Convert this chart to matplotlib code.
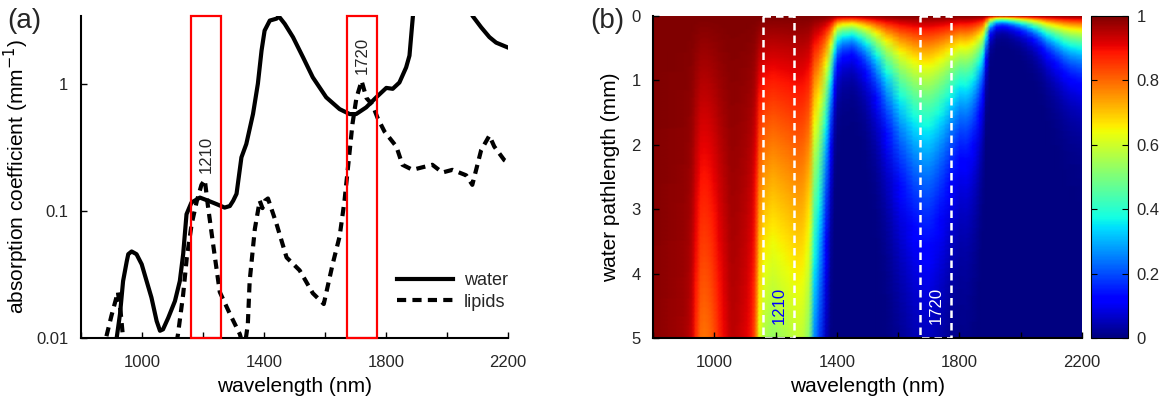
import numpy as np
import matplotlib
matplotlib.use('Agg')
import matplotlib.pyplot as plt
from matplotlib.patches import Rectangle

# water absorption coefficient (mm^-1); values off-scale estimated
water_nm = [800, 850, 900, 917, 928, 938, 950, 955, 966, 982, 999, 1015, 1031, 1048,
            1059, 1069, 1086, 1108, 1124, 1135, 1146, 1162, 1190, 1217, 1244, 1271,
            1288, 1299, 1310, 1326, 1342, 1364, 1380, 1392, 1402, 1419, 1441, 1449,
            1468, 1495, 1528, 1560, 1604, 1648, 1681, 1702, 1735, 1768, 1801, 1822,
            1844, 1866, 1877, 1886, 1900, 1920, 1940, 1960, 2000, 2040, 2070, 2084,
            2112, 2139, 2161, 2200]
water_mu = [0.0022, 0.0045, 0.0068, 0.010, 0.0155, 0.028, 0.040, 0.0456, 0.0479, 0.0456,
            0.038, 0.0281, 0.0208, 0.0136, 0.0114, 0.0117, 0.0144, 0.0195, 0.028, 0.0456,
            0.094, 0.116, 0.127, 0.120, 0.113, 0.106, 0.109, 0.12, 0.136, 0.263, 0.335,
            0.577, 1.0, 1.82, 2.61, 3.13, 3.24, 3.37, 2.95, 2.32, 1.61, 1.12, 0.78, 0.63,
            0.576, 0.576, 0.65, 0.78, 0.925, 0.91, 1.02, 1.34, 1.66, 2.95, 7.0, 11.0,
            12.0, 11.0, 8.0, 5.5, 4.0, 3.4, 2.77, 2.32, 2.1, 1.92]

# lipid absorption coefficient (mm^-1)
lipid_nm = [860, 885, 900, 921, 930, 938, 960, 1000, 1060, 1100, 1118, 1135, 1147, 1163,
            1180, 1195, 1206, 1216, 1233, 1255, 1288, 1321, 1335, 1347, 1353, 1370, 1386,
            1395, 1403, 1413, 1441, 1474, 1517, 1560, 1596, 1625, 1648, 1664, 1680, 1690,
            1703, 1720, 1736, 1756, 1772, 1795, 1834, 1854, 1887, 1920, 1952, 1985, 2018,
            2063, 2083, 2112, 2139, 2155, 2188, 2200]
lipid_mu = [0.006, 0.0107, 0.015, 0.023, 0.016, 0.010, 0.005, 0.004, 0.004, 0.006,
            0.0107, 0.022, 0.043, 0.079, 0.12, 0.16, 0.175, 0.11, 0.055, 0.023, 0.0155,
            0.0107, 0.008, 0.0128, 0.028, 0.072, 0.12, 0.105, 0.12, 0.125, 0.079, 0.043,
            0.034, 0.0225, 0.0185, 0.038, 0.063, 0.12, 0.28, 0.48, 0.77, 1.05, 0.77, 0.68,
            0.54, 0.42, 0.32, 0.23, 0.21, 0.22, 0.23, 0.20, 0.21, 0.19, 0.16, 0.30, 0.39,
            0.32, 0.25, 0.24]

bands = [(1160, 1260, '1210'), (1672, 1772, '1720')]
depth = np.linspace(0, 5, 251)  # water pathlength grid (mm)

plt.rcParams['font.family'] = ['Liberation Sans', 'DejaVu Sans']
plt.rcParams['text.color'] = '#262626'
plt.rcParams['xtick.color'] = 'black'
plt.rcParams['ytick.color'] = 'black'
plt.rcParams['xtick.labelcolor'] = '#262626'
plt.rcParams['ytick.labelcolor'] = '#262626'

fig = plt.figure(figsize=(11.67, 4.03), dpi=100)
ax1 = fig.add_axes([0.0694, 0.1613, 0.3659, 0.7990])
ax2 = fig.add_axes([0.5596, 0.1613, 0.3676, 0.7990])
cax = fig.add_axes([0.9349, 0.1613, 0.0317, 0.7990])

# (a) absorption spectra
ax1.semilogy(water_nm, water_mu, color='black', lw=3, label='water')
ax1.semilogy(lipid_nm, lipid_mu, color='black', lw=3, ls=(0, (2.2, 1.5)),
             dash_capstyle='butt', label='lipids')
ax1.set_xlim(800, 2200)
ax1.set_ylim(0.01, 3.4)
for lo, hi, name in bands:
    ax1.add_patch(Rectangle((lo, 0.01), hi - lo, 3.4 - 0.01, fill=False,
                            edgecolor='red', lw=1.6, clip_on=False, zorder=3))
    ax1.text((lo + hi) / 2, 0.20 if name == '1210' else 1.2, name, rotation=90,
             ha='center', va='bottom', fontsize=12)
ax1.set_yticks([0.01, 0.1, 1])
ax1.set_yticklabels(['0.01', '0.1', '1'])
ax1.yaxis.set_minor_locator(matplotlib.ticker.NullLocator())
ax1.set_xticks([1000, 1400, 1800, 2200])
ax1.set_xticks([800, 1200, 1600, 2000], minor=True)
ax1.spines[['top', 'right']].set_visible(False)
ax1.spines[['left', 'bottom']].set_linewidth(1.5)
ax1.tick_params(which='both', direction='in', length=4, width=1, labelsize=12)
ax1.tick_params(axis='x', pad=12)
ax1.tick_params(axis='y', pad=9)
ax1.set_xlabel('wavelength (nm)', fontsize=15, labelpad=5)
ax1.set_ylabel('absorption coefficient (mm$^{-1}$)', fontsize=15, labelpad=4)
ax1.legend(loc='upper left', bbox_to_anchor=(0.74, 0.205), frameon=False,
           handlelength=3.1, handletextpad=0.6, fontsize=13, borderpad=0,
           borderaxespad=0, labelspacing=0.25)

# (b) transmission through water
X, Y = np.meshgrid(water_nm, depth)
T = np.exp(-np.outer(depth, water_mu))
im = ax2.pcolormesh(X, Y, T, cmap='jet', vmin=0, vmax=1, shading='gouraud',
                    rasterized=True)
ax2.set_xlim(800, 2200)
ax2.set_ylim(5, 0)
for lo, hi, name in bands:
    ax2.add_patch(Rectangle((lo, 0), hi - lo, 5, fill=False, edgecolor='white',
                            lw=1.8, ls=(0, (3, 2)), zorder=3))
    ax2.text((lo + hi) / 2 + 2, 4.78, name, rotation=90, ha='center', va='bottom',
             fontsize=12, color='blue' if name == '1210' else 'white')
ax2.set_yticks([0, 1, 2, 3, 4, 5])
ax2.set_xticks([1000, 1400, 1800, 2200])
ax2.set_xticks([800, 1200, 1600, 2000], minor=True)
ax2.spines[['top', 'right']].set_visible(False)
ax2.spines[['left', 'bottom']].set_linewidth(1.5)
ax2.tick_params(which='both', direction='in', length=4, width=1, labelsize=12)
ax2.tick_params(axis='x', pad=12)
ax2.tick_params(axis='y', pad=9)
ax2.set_xlabel('wavelength (nm)', fontsize=15, labelpad=5)
ax2.set_ylabel('water pathlength (mm)', fontsize=15, labelpad=8)

cb = fig.colorbar(im, cax=cax, ticks=[0, 0.2, 0.4, 0.6, 0.8, 1])
cb.ax.set_yticklabels(['0', '0.2', '0.4', '0.6', '0.8', '1'])
cb.ax.tick_params(direction='in', left=True, right=True, length=4, labelsize=12, pad=6)
cb.outline.set_linewidth(0.8)

fig.text(0.006, 0.98, '(a)', fontsize=20, va='top')
fig.text(0.506, 0.98, '(b)', fontsize=20, va='top')

fig.savefig('out.png', dpi=100)
